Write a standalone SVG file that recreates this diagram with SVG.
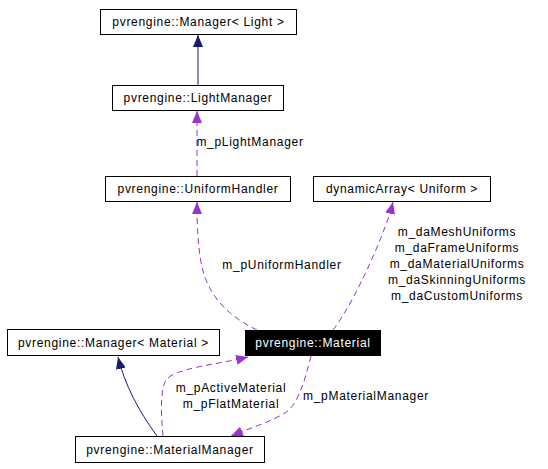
<svg xmlns="http://www.w3.org/2000/svg" width="548" height="469" viewBox="0 0 548 469">
<style>
text{font-family:"Liberation Sans",Arial,sans-serif;font-size:12px;letter-spacing:0.7px;fill:#000;}
.c{text-anchor:middle;}
.box{fill:#fff;stroke:#000;stroke-width:1;}
.sel{fill:#000;stroke:#000;}
.wt{fill:#fff;}
.inh{fill:none;stroke:#191970;stroke-width:1;}
.use{fill:none;stroke:#9a32cd;stroke-width:1;stroke-dasharray:6,4;}
</style>
<defs>
<marker id="an" viewBox="0 0 12 10" refX="12" refY="5" markerWidth="12" markerHeight="10" markerUnits="userSpaceOnUse" orient="auto">
<path d="M0,0 L12,5 L0,10 z" fill="#191970"/>
</marker>
<marker id="ap" viewBox="0 0 12 10" refX="12" refY="5" markerWidth="12" markerHeight="10" markerUnits="userSpaceOnUse" orient="auto">
<path d="M0,0 L12,5 L0,10 z" fill="#9a32cd"/>
</marker>
</defs>
<rect width="548" height="469" fill="#fff"/>
<g id="edges">
<path class="inh" d="M198,85 L198,35" marker-end="url(#an)"/>
<path class="use" d="M197,176 L197,111" marker-end="url(#ap)"/>
<path class="use" d="M257,330 C232,318 207,298 201,262 C198,245 197,228 197,202" marker-end="url(#ap)"/>
<path class="use" d="M333,330 C350,308 372,262 385,227 C389,217 391,210 393,202" marker-end="url(#ap)"/>
<path class="inh" d="M157,436 C138,410 125,385 118,357" marker-end="url(#an)"/>
<path class="use" d="M163,436 C161,415 160,390 166,380 C175,368 215,365 248,357" marker-end="url(#ap)"/>
<path class="use" d="M311,356 C305,380 298,405 285,413 C270,422 250,428 231,436" marker-end="url(#ap)"/>
<text class="c" x="250" y="146">m_pLightManager</text>
<text class="c" x="282" y="269">m_pUniformHandler</text>
<text class="c" x="457" y="236">m_daMeshUniforms</text>
<text class="c" x="457" y="252">m_daFrameUniforms</text>
<text class="c" x="457" y="268">m_daMaterialUniforms</text>
<text class="c" x="457" y="284">m_daSkinningUniforms</text>
<text class="c" x="457" y="300">m_daCustomUniforms</text>
<text class="c" x="231" y="392">m_pActiveMaterial</text>
<text class="c" x="231" y="408">m_pFlatMaterial</text>
<text class="c" x="366" y="400">m_pMaterialManager</text>
</g>
<g id="managerLight"><rect class="box" x="100.5" y="9.5" width="196" height="25"/><text class="c" x="198.5" y="26">pvrengine::Manager&lt; Light &gt;</text></g>
<g id="lightManager"><rect class="box" x="112.5" y="85.5" width="171" height="25"/><text class="c" x="198" y="102">pvrengine::LightManager</text></g>
<g id="uniformHandler"><rect class="box" x="105.5" y="176.5" width="185" height="25"/><text class="c" x="198" y="193">pvrengine::UniformHandler</text></g>
<g id="dynamicArray"><rect class="box" x="313.5" y="176.5" width="177" height="25"/><text class="c" x="402" y="193">dynamicArray&lt; Uniform &gt;</text></g>
<g id="managerMaterial"><rect class="box" x="7.5" y="329.5" width="212" height="26"/><text class="c" x="113.5" y="347">pvrengine::Manager&lt; Material &gt;</text></g>
<g id="material"><rect class="sel" x="245.5" y="330.5" width="135" height="25"/><text class="c wt" x="313" y="347">pvrengine::Material</text></g>
<g id="materialManager"><rect class="box" x="75.5" y="436.5" width="189" height="26"/><text class="c" x="170" y="454">pvrengine::MaterialManager</text></g>
</svg>
